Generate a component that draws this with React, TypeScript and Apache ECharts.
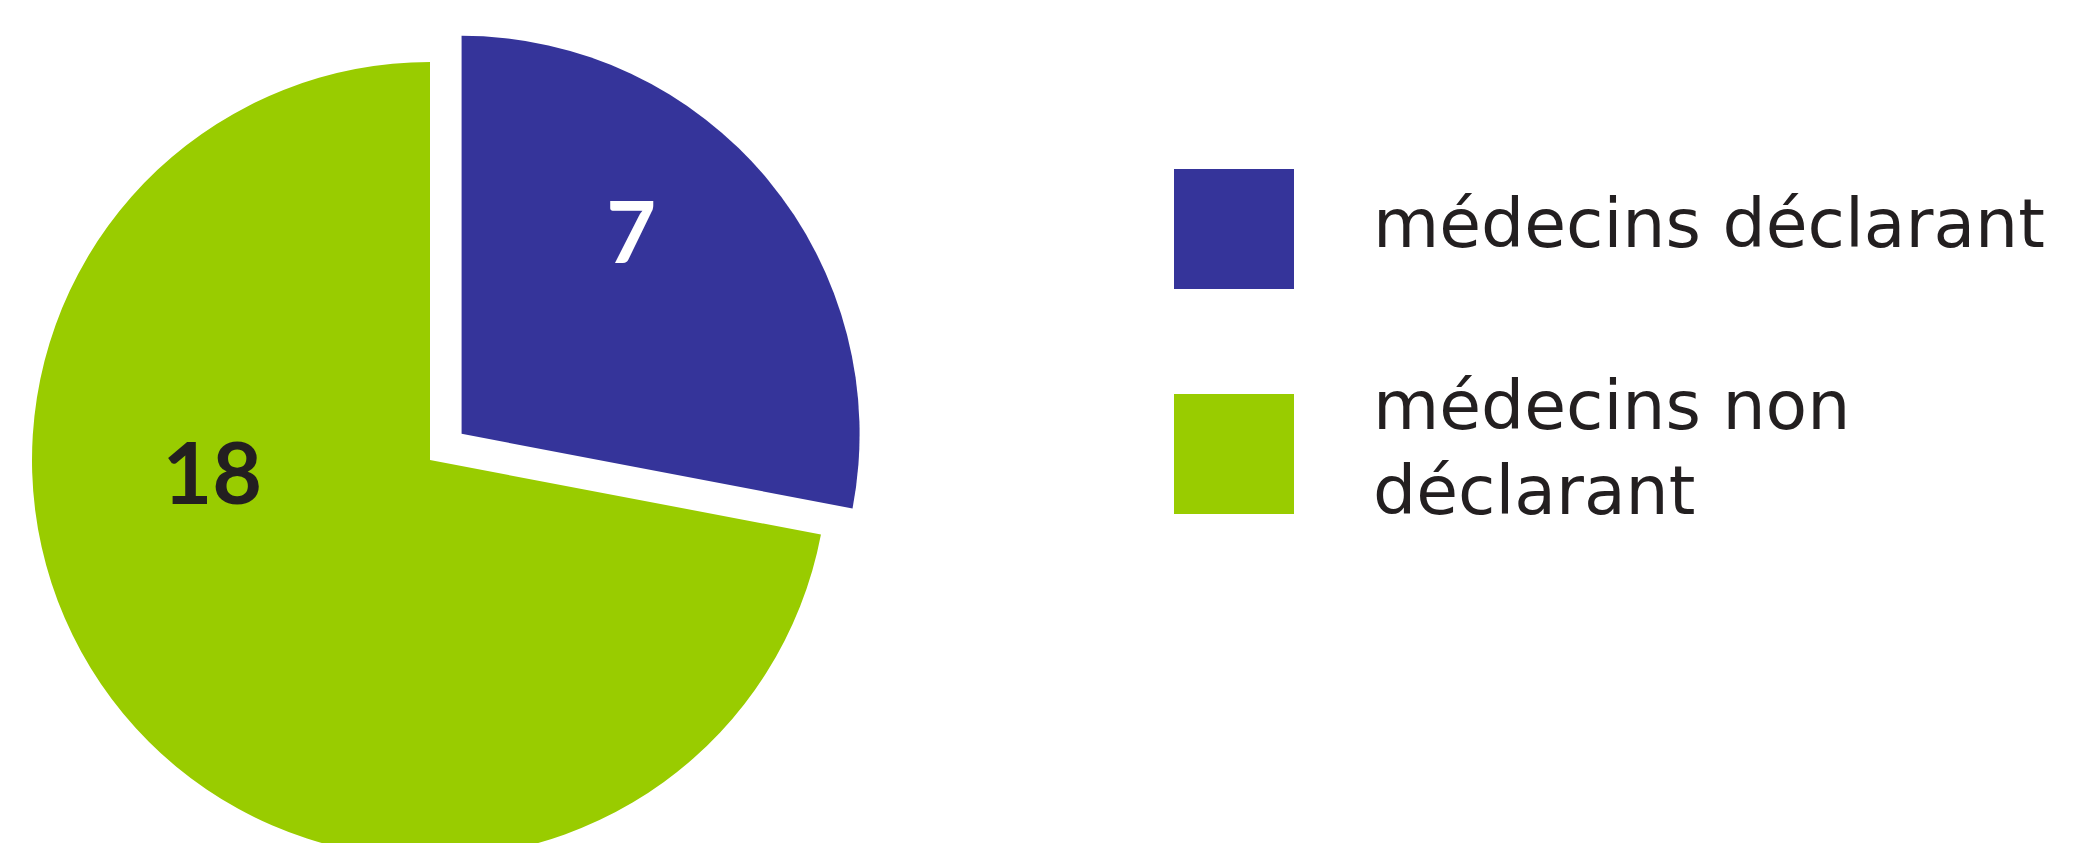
import React, { useEffect, useRef } from "react";
import * as echarts from "echarts";

const categories = ["médecins déclarant", "médecins non déclarant"];
const values = [7, 18];
const sliceColors = ["#35349a", "#99cc00"];
const labelColors = ["#ffffff", "#231f20"];
const explodedIndex = 0;
// fine adjustment of the value labels relative to the slice midpoint
const labelShift: [number, number][] = [
  [14, -76],
  [-62, -118],
];

export default function App() {
  const ref = useRef<HTMLDivElement>(null);

  useEffect(() => {
    if (!ref.current) return;
    const chart = echarts.init(ref.current, undefined, { renderer: "svg" });
    const data = categories.map((name, i) => ({
      name,
      value: values[i],
      selected: i === explodedIndex,
      itemStyle: { color: sliceColors[i] },
      label: { color: labelColors[i], fontWeight: "bold" },
    }));
    chart.setOption({
      animation: false,
      backgroundColor: "#ffffff",
      legend: {
        orient: "vertical",
        left: 1169,
        top: 164,
        padding: 5,
        icon: "rect",
        itemWidth: 120,
        itemHeight: 120,
        itemGap: 80,
        selectedMode: false,
        data: categories,
        formatter: (name: string) => `{t|${name}}`,
        textStyle: {
          fontFamily: "DejaVu Sans",
          fontSize: 68,
          lineHeight: 85,
          color: "#231f20",
          width: 780,
          overflow: "break",
          padding: [0, 0, 0, 74],
          rich: {
            t: {
              fontFamily: "DejaVu Sans",
              fontSize: 68,
              lineHeight: 85,
              color: "#231f20",
              padding: [0, 0, 12, 0],
            },
          },
        },
      },
      series: [
        {
          type: "pie",
          center: [430, 460],
          radius: 398,
          startAngle: 90,
          clockwise: true,
          selectedMode: "single",
          selectedOffset: 41,
          avoidLabelOverlap: false,
          emphasis: { disabled: true },
          label: {
            show: true,
            position: "inside",
            formatter: "{c}",
            fontFamily: "Lato",
            fontWeight: "bold",
            fontSize: 86,
          },
          labelLine: { show: false },
          labelLayout: (params: any) => {
            const s = labelShift[params.dataIndex] || [0, 0];
            return { dx: s[0], dy: s[1] };
          },
          data,
        },
      ],
    });
    return () => chart.dispose();
  }, []);

  return (
    <div
      ref={ref}
      style={{ position: "absolute", left: 0, top: 0, width: 2087, height: 843 }}
    />
  );
}
